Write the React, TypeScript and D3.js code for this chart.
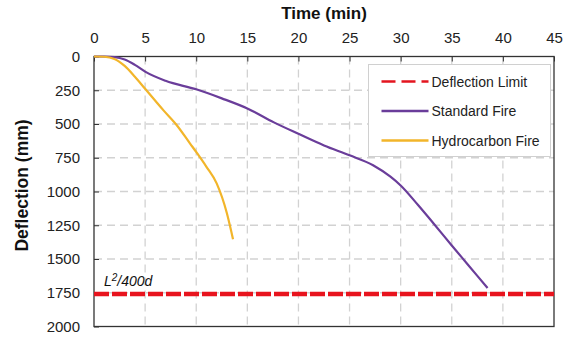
import React, { useRef, useEffect } from "react";
import * as d3 from "d3";

const timeTicks = [0, 5, 10, 15, 20, 25, 30, 35, 40, 45];
const deflTicks = [0, 250, 500, 750, 1000, 1250, 1500, 1750, 2000];

const standardTime = [0, 1, 2, 3, 4, 5, 7, 10, 12.5, 15, 17.6, 20, 22.5, 25, 27.3, 29, 30, 31.7, 33.2, 35, 36.5, 38.5];
const standardDefl = [0, 0, 4, 22, 62, 112, 180, 243, 310, 385, 488, 573, 659, 732, 805, 890, 955, 1100, 1235, 1400, 1535, 1715];

const hydroTime = [0, 1, 2, 3, 4, 5, 6.8, 8.1, 9.4, 10.1, 11, 12, 13, 13.6];
const hydroDefl = [0, 2, 18, 70, 150, 239, 399, 509, 645, 718, 817, 940, 1161, 1353];

const deflectionLimit = 1760;

const legendItems = [
  { label: "Deflection Limit", color: "#e3151f", dash: "14,6" },
  { label: "Standard Fire", color: "#6a3d9a", dash: null },
  { label: "Hydrocarbon Fire", color: "#f2b52a", dash: null },
];

const App: React.FC = () => {
  const svgRef = useRef<SVGSVGElement | null>(null);
  const width = 564;
  const height = 339;
  const margin = { top: 56.5, right: 10, bottom: 12.5, left: 94 };

  useEffect(() => {
    const svg = d3.select(svgRef.current);
    svg.selectAll("*").remove();

    const x = d3.scaleLinear().domain([0, 45]).range([margin.left, width - margin.right]);
    const y = d3.scaleLinear().domain([0, 2000]).range([margin.top, height - margin.bottom]);
    const font = "Liberation Sans, Arial, sans-serif";

    const chart = svg.append("g");

    // grid
    chart
      .selectAll(".vgrid")
      .data(timeTicks.slice(1, -1))
      .enter()
      .append("line")
      .attr("x1", (d) => x(d))
      .attr("x2", (d) => x(d))
      .attr("y1", y(0))
      .attr("y2", y(2000))
      .attr("stroke", "#d2d2d2")
      .attr("stroke-width", 1.3)
      .attr("stroke-dasharray", "8,5");

    chart
      .selectAll(".hgrid")
      .data(deflTicks.slice(1, -1))
      .enter()
      .append("line")
      .attr("x1", x(0))
      .attr("x2", x(45))
      .attr("y1", (d) => y(d))
      .attr("y2", (d) => y(d))
      .attr("stroke", "#d2d2d2")
      .attr("stroke-width", 1.3)
      .attr("stroke-dasharray", "8,5");

    // axes
    const top = chart
      .append("g")
      .attr("transform", `translate(0,${y(0)})`)
      .call(d3.axisTop(x).tickValues(timeTicks).tickFormat(d3.format("d")).tickSize(-5).tickPadding(14));
    top.select(".domain").remove();
    top.selectAll("line").attr("stroke", "#333");
    top.selectAll("text").attr("font-size", 15).attr("font-family", font).attr("fill", "#222");

    const left = chart
      .append("g")
      .attr("transform", `translate(${x(0)},0)`)
      .call(d3.axisLeft(y).tickValues(deflTicks).tickFormat(d3.format("d")).tickSize(-5).tickPadding(14));
    left.select(".domain").remove();
    left.selectAll("line").attr("stroke", "#333");
    left.selectAll("text").attr("font-size", 15).attr("font-family", font).attr("fill", "#222");

    chart
      .append("rect")
      .attr("x", x(0))
      .attr("y", y(0))
      .attr("width", x(45) - x(0))
      .attr("height", y(2000) - y(0))
      .attr("fill", "none")
      .attr("stroke", "#333")
      .attr("stroke-width", 1.3);

    // deflection limit
    chart
      .append("line")
      .attr("x1", x(0))
      .attr("x2", x(45))
      .attr("y1", y(deflectionLimit))
      .attr("y2", y(deflectionLimit))
      .attr("stroke", "#e8141e")
      .attr("stroke-width", 4.5)
      .attr("stroke-dasharray", "15,3");

    chart
      .append("text")
      .attr("x", x(0) + 10)
      .attr("y", y(deflectionLimit) - 8.5)
      .attr("font-family", font)
      .attr("font-size", 14)
      .attr("font-style", "italic")
      .attr("fill", "#111")
      .html('L<tspan dy="-5" font-size="10">2</tspan><tspan dy="5">/400d</tspan>');

    const line = d3
      .line<[number, number]>()
      .x((d) => x(d[0]))
      .y((d) => y(d[1]))
      .curve(d3.curveMonotoneX);

    chart
      .append("path")
      .datum(standardTime.map((t, i) => [t, standardDefl[i]] as [number, number]))
      .attr("d", line)
      .attr("fill", "none")
      .attr("stroke", "#6a3d9a")
      .attr("stroke-width", 2.2);

    chart
      .append("path")
      .datum(hydroTime.map((t, i) => [t, hydroDefl[i]] as [number, number]))
      .attr("d", line)
      .attr("fill", "none")
      .attr("stroke", "#f2b52a")
      .attr("stroke-width", 2.2);

    // legend
    const lg = chart.append("g").attr("transform", "translate(368.5,64.5)");
    lg.append("rect")
      .attr("width", 182)
      .attr("height", 92)
      .attr("fill", "#fff")
      .attr("stroke", "#d0d0d0")
      .attr("stroke-width", 1);
    legendItems.forEach((item, i) => {
      const yy = 17 + i * 29.5;
      lg.append("line")
        .attr("x1", 13)
        .attr("x2", 60)
        .attr("y1", yy)
        .attr("y2", yy)
        .attr("stroke", item.color)
        .attr("stroke-width", 2.5)
        .attr("stroke-dasharray", item.dash ?? null);
      lg.append("text")
        .attr("x", 63)
        .attr("y", yy + 5)
        .attr("font-family", font)
        .attr("font-size", 14)
        .attr("fill", "#222")
        .text(item.label);
    });

    // titles
    svg
      .append("text")
      .attr("x", (x(0) + x(45)) / 2)
      .attr("y", 19)
      .attr("text-anchor", "middle")
      .attr("font-family", font)
      .attr("font-weight", "bold")
      .attr("font-size", 17)
      .attr("fill", "#111")
      .text("Time (min)");

    svg
      .append("text")
      .attr("transform", `translate(28,${(y(0) + y(2000)) / 2 - 6}) rotate(-90)`)
      .attr("text-anchor", "middle")
      .attr("font-family", font)
      .attr("font-weight", "bold")
      .attr("font-size", 17.5)
      .attr("fill", "#111")
      .text("Deflection (mm)");
  }, []);

  return (
    <svg
      ref={svgRef}
      width={width}
      height={height}
      style={{ position: "absolute", left: 0, top: 0, background: "#fff" }}
    />
  );
};

export default App;
